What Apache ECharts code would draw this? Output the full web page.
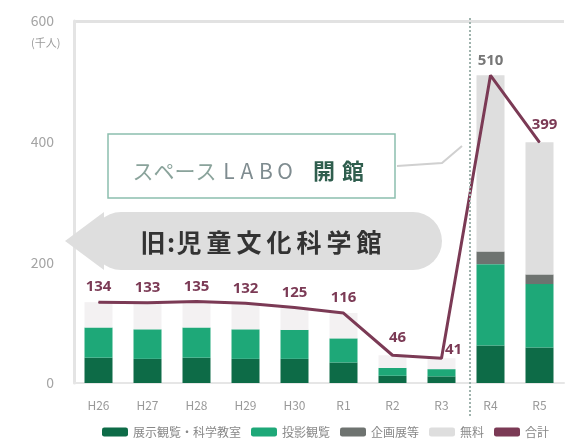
<!DOCTYPE html>
<html><head><meta charset="utf-8">
<script src="https://cdn.jsdelivr.net/npm/echarts@6/dist/echarts.min.js"></script>
<style>html,body{margin:0;padding:0;background:#fff}#c{width:565px;height:444px}</style>
</head><body><div id="c"></div><script>
// 年度別 利用者数（千人）
const years = ['H26','H27','H28','H29','H30','R1','R2','R3','R4','R5'];
const seriesNames = ['展示観覧・科学教室','投影観覧','企画展等','無料','合計'];
const darkGreen = [42, 40, 42, 40, 40, 34, 12, 11, 62, 59];
const midGreen  = [50, 49, 50, 49, 48, 40, 13, 12, 135, 105];
const darkGray  = [0, 0, 0, 0, 0, 0, 0, 0, 21, 16];
const lightGray = [42, 44, 43, 43, 37, 42, 21, 18, 292, 219];
const totals    = [134, 133, 135, 132, 125, 116, 46, 41, 510, 399];
const yTicks = [0, 200, 400, 600];

const JP = '"Noto Sans CJK JP", "Noto Sans", sans-serif';
const MAROON = '#7b3a55';

const chart = echarts.init(document.getElementById('c'), null, {renderer: 'canvas'});

function barSeries(name, data, color) {
  return {
    name, type: 'bar', stack: 'v', data, barWidth: 28,
    itemStyle: {color}, emphasis: {disabled: true}, z: 2
  };
}

chart.setOption({
  animation: false,
  textStyle: {fontFamily: JP},
  grid: {left: 74, right: 1, top: 21, bottom: 61},
  legend: {
    left: 97, bottom: 1, itemWidth: 26, itemHeight: 9, itemGap: 10,
    textStyle: {color: '#888', fontSize: 12, fontFamily: JP},
    data: [
      {name: seriesNames[0]}, {name: seriesNames[1]}, {name: seriesNames[2]},
      {name: seriesNames[3]}, {name: seriesNames[4], icon: 'roundRect'}
    ]
  },
  xAxis: {
    type: 'category', data: years,
    axisLine: {lineStyle: {color: '#e6e6e6', width: 2}},
    axisTick: {show: false},
    axisLabel: {color: '#999', fontSize: 12, margin: 16}
  },
  yAxis: {
    type: 'value', min: yTicks[0], max: yTicks[yTicks.length - 1], interval: 200,
    axisLine: {show: true, lineStyle: {color: '#e4e4e4', width: 3}},
    axisTick: {show: false},
    axisLabel: {color: '#a4a4a4', fontSize: 14, margin: 20},
    splitLine: {show: true, lineStyle: {color: ['rgba(0,0,0,0)', 'rgba(0,0,0,0)', 'rgba(0,0,0,0)', '#e2e2e2'], width: 3}}
  },
  series: [
    barSeries(seriesNames[0], darkGreen, '#0d6b47'),
    barSeries(seriesNames[1], midGreen, '#1ea878'),
    barSeries(seriesNames[2], darkGray, '#6e7370'),
    {
      name: seriesNames[3], type: 'bar', stack: 'v', barWidth: 28, z: 2,
      emphasis: {disabled: true},
      itemStyle: {color: '#dedede'},
      // 旧館の年度は淡く表示
      data: lightGray.map((v, i) => i < 8 ? {value: v, itemStyle: {color: '#f3f1f2'}} : v)
    },
    {
      name: seriesNames[4], type: 'line', data: totals.map((v, i) => {
        const d = {value: v};
        if (i === 8) d.label = {color: '#777'};
        if (i === 7) d.label = {offset: [12, 6]};
        if (i === 6 || i === 9) d.label = {offset: [5, -3]};
        return d;
      }),
      symbol: 'circle', symbolSize: 1, showSymbol: true, z: 5,
      lineStyle: {color: MAROON, width: 3},
      itemStyle: {color: MAROON},
      label: {show: true, position: 'top', distance: 7, color: MAROON, fontSize: 15, fontWeight: 'bold', fontFamily: '"Noto Sans", sans-serif'}
    }
  ]
});

// 開館の区切り線と注記
const xR3 = chart.convertToPixel({xAxisIndex: 0}, 'R3');
const xR4 = chart.convertToPixel({xAxisIndex: 0}, 'R4');
const xSplit = (xR3 + xR4) / 2 + 4;

// 字間を広げた見出し文字（1文字ずつ配置）
function spacedText(chars, y, font, fill) {
  return chars.map(([ch, x, f]) => ({
    type: 'text', z: 11, x, y,
    style: {text: ch, align: 'center', verticalAlign: 'middle', font: font, fill: f || fill}
  }));
}

const labTitle = spacedText([
  ['ス', 143, '#8aa39b'], ['ペ', 164, '#8aa39b'], ['ー', 185, '#8aa39b'], ['ス', 206, '#8aa39b'],
  ['L', 229, '#7f8c90'], ['A', 247, '#7f8c90'], ['B', 266, '#7f8c90'], ['O', 285, '#7f8c90']
], 171, '21px ' + JP, '#8aa39b').concat(spacedText([
  ['開', 324], ['館', 353]
], 171, 'bold 22px ' + JP, '#2f5e4e'));

const oldTitle = spacedText([
  ['旧', 153], [':', 171], ['児', 189], ['童', 219], ['文', 249], ['化', 279],
  ['科', 309], ['学', 339], ['館', 369]
], 242, 'bold 25px ' + JP, '#333');

chart.setOption({
  graphic: [
    {type: 'text', x: 31, y: 37, style: {text: '(千人)', fill: '#9a9a9a', font: '11px ' + JP}},
    {
      type: 'line', z: 10,
      shape: {x1: xSplit, y1: 18, x2: xSplit, y2: 418},
      style: {stroke: '#9fb3ad', lineWidth: 2, lineDash: [2, 2]}
    },
    {
      type: 'polyline', z: 10,
      shape: {points: [[397, 166], [442, 163], [xSplit - 8, 146]]},
      style: {stroke: '#d0d0d0', lineWidth: 2, fill: null}
    },
    {
      type: 'rect', z: 10,
      shape: {x: 108, y: 134, width: 287, height: 64},
      style: {fill: '#fff', stroke: '#8cbfae', lineWidth: 1.5}
    },
    {
      type: 'rect', z: 10,
      shape: {x: 92, y: 212, width: 350, height: 58, r: 29},
      style: {fill: '#dedede'}
    },
    {
      type: 'polygon', z: 10,
      shape: {points: [[65, 241], [104, 212], [104, 270]]},
      style: {fill: '#dedede'}
    }
  ].concat(labTitle, oldTitle)
});
</script></body></html>
